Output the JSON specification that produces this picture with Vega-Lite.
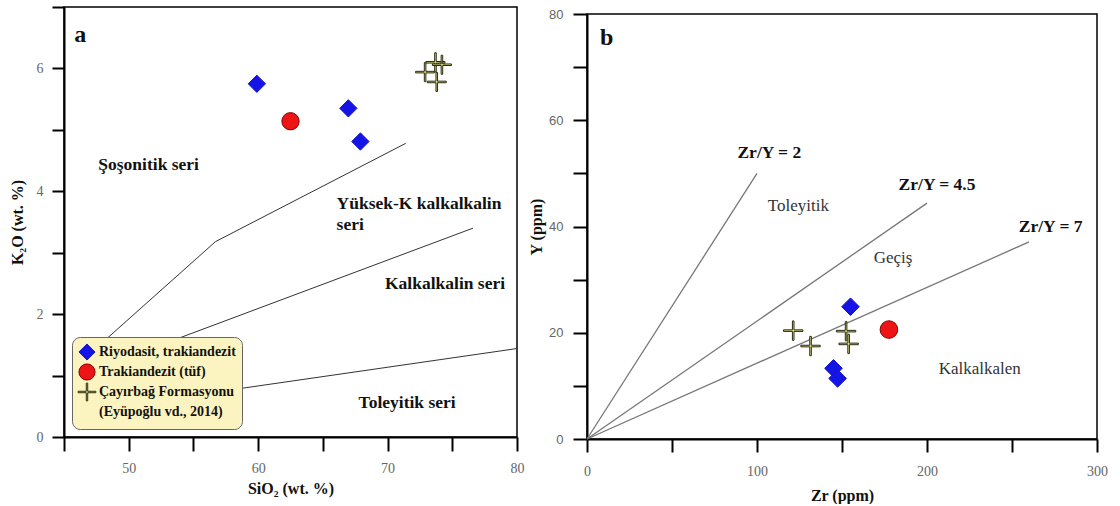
{
  "$schema": "https://vega.github.io/schema/vega-lite/v6.json",
  "padding": {"left": 8, "top": 5, "right": 0, "bottom": 0},
  "autosize": {"type": "pad"},
  "spacing": 2,
  "background": "white",
  "config": {
    "view": {"stroke": "black", "strokeWidth": 1.5},
    "axis": {
      "domainColor": "black", "domainWidth": 2, "tickColor": "black", "tickWidth": 2,
      "grid": false, "labelFont": "Liberation Serif", "labelFontSize": 14, "labelColor": "#666",
      "titleFont": "Liberation Serif", "titleFontWeight": "bold", "titleFontSize": 16, "titleColor": "#111",
      "labelOverlap": false, "labelFlush": false
    }
  },
  "resolve": {"scale": {"fill": "independent", "shape": "independent", "stroke": "independent"}},
  "hconcat": [
    {
      "width": 453,
      "height": 430,
      "layer": [
        {
          "data": {"values": [
            {"id": "sho", "o": 1, "x": 47.5, "y": 1.45},
            {"id": "sho", "o": 2, "x": 56.7, "y": 3.18},
            {"id": "sho", "o": 3, "x": 71.4, "y": 4.78},
            {"id": "hk", "o": 1, "x": 53, "y": 1.54},
            {"id": "hk", "o": 2, "x": 76.6, "y": 3.4},
            {"id": "th", "o": 1, "x": 57, "y": 0.74},
            {"id": "th", "o": 2, "x": 80, "y": 1.44}
          ]},
          "mark": {"type": "line", "color": "#333", "strokeWidth": 1},
          "encoding": {
            "x": {"field": "x", "type": "quantitative", "scale": {"domain": [45, 80], "nice": false, "zero": false},
              "axis": {"title": "SiO₂ (wt. %)", "format": "d", "values": [45, 50, 55, 60, 65, 70, 75, 80], "labelExpr": "datum.value % 10 === 0 ? datum.label : ''", "tickSize": 14, "labelPadding": 10, "titlePadding": 5}},
            "y": {"field": "y", "type": "quantitative", "scale": {"domain": [0, 7], "nice": false},
              "axis": {"title": "K₂O (wt. %)", "format": "d", "values": [0, 1, 2, 3, 4, 5, 6, 7], "labelExpr": "datum.value % 2 === 0 ? datum.label : ''",
                "labelFontSize": {"condition": {"test": "datum.value % 2 === 1", "value": 0}, "value": 14},
                "tickSize": 12, "labelPadding": 9, "titlePadding": 11}},
            "detail": {"field": "id"},
            "order": {"field": "o"}
          }
        },
        {
          "data": {"values": [
            {"x": 59.9, "y": 5.75, "grp": "Riyodasit, trakiandezit"},
            {"x": 66.97, "y": 5.35, "grp": "Riyodasit, trakiandezit"},
            {"x": 67.9, "y": 4.81, "grp": "Riyodasit, trakiandezit"},
            {"x": 62.5, "y": 5.14, "grp": "Trakiandezit (tüf)"},
            {"x": 72.9, "y": 5.94, "grp": "Çayırbağ Formasyonu"},
            {"x": 73.7, "y": 6.1, "grp": "Çayırbağ Formasyonu"},
            {"x": 74.2, "y": 6.06, "grp": "Çayırbağ Formasyonu"},
            {"x": 73.8, "y": 5.78, "grp": "Çayırbağ Formasyonu"}
          ]},
          "mark": {"type": "point", "filled": true, "opacity": 1, "size": 300, "strokeWidth": 1},
          "encoding": {
            "x": {"field": "x", "type": "quantitative"},
            "y": {"field": "y", "type": "quantitative"},
            "shape": {"field": "grp", "type": "nominal",
              "scale": {"domain": ["Riyodasit, trakiandezit", "Trakiandezit (tüf)", "Çayırbağ Formasyonu", "(Eyüpoğlu vd., 2014)"],
                "range": ["diamond", "circle", "M-0.09,-1.1H0.09V-0.09H1.1V0.09H0.09V1.1H-0.09V0.09H-1.1V-0.09H-0.09Z", "circle"]},
              "legend": {"orient": "none", "legendX": 8, "legendY": 330, "title": null, "fillColor": "#fcf4c0", "strokeColor": "#666", "cornerRadius": 8, "padding": 6, "rowPadding": -3, "symbolSize": 260, "labelFont": "Liberation Serif", "labelFontSize": 14, "labelFontWeight": "bold", "labelColor": "#111", "labelOffset": 3, "symbolStrokeWidth": 1}},
            "fill": {"field": "grp", "type": "nominal",
              "scale": {"domain": ["Riyodasit, trakiandezit", "Trakiandezit (tüf)", "Çayırbağ Formasyonu", "(Eyüpoğlu vd., 2014)"],
                "range": ["#1414e6", "#ec1414", "#e2e28c", "transparent"]},
              "legend": {"orient": "none", "legendX": 8, "legendY": 330, "title": null, "fillColor": "#fcf4c0", "strokeColor": "#666", "cornerRadius": 8, "padding": 6, "rowPadding": -3, "symbolSize": 260, "labelFont": "Liberation Serif", "labelFontSize": 14, "labelFontWeight": "bold", "labelColor": "#111", "labelOffset": 3, "symbolStrokeWidth": 1}},
            "stroke": {"field": "grp", "type": "nominal",
              "scale": {"domain": ["Riyodasit, trakiandezit", "Trakiandezit (tüf)", "Çayırbağ Formasyonu", "(Eyüpoğlu vd., 2014)"],
                "range": ["#1414c8", "#8a0000", "#2a2a10", "transparent"]},
              "legend": {"orient": "none", "legendX": 8, "legendY": 330, "title": null, "fillColor": "#fcf4c0", "strokeColor": "#666", "cornerRadius": 8, "padding": 6, "rowPadding": -3, "symbolSize": 260, "labelFont": "Liberation Serif", "labelFontSize": 14, "labelFontWeight": "bold", "labelColor": "#111", "labelOffset": 3, "symbolStrokeWidth": 1}}
          }
        },
        {
          "data": {"values": [
            {"x": 47.65, "y": 4.42, "label": "Şoşonitik seri"},
            {"x": 66.06, "y": 3.79, "label": "Yüksek-K kalkalkalin"},
            {"x": 66.06, "y": 3.45, "label": "seri"},
            {"x": 69.8, "y": 2.49, "label": "Kalkalkalin seri"},
            {"x": 67.76, "y": 0.557, "label": "Toleyitik seri"}
          ]},
          "mark": {"type": "text", "font": "Liberation Serif", "fontWeight": "bold", "fontSize": 17.5, "align": "left", "baseline": "middle", "color": "#111"},
          "encoding": {
            "x": {"field": "x", "type": "quantitative"},
            "y": {"field": "y", "type": "quantitative"},
            "text": {"field": "label"}
          }
        },
        {
          "data": {"values": [{"x": 45.8, "y": 6.55, "label": "a"}]},
          "mark": {"type": "text", "font": "Liberation Serif", "fontWeight": "bold", "fontSize": 24, "align": "left", "baseline": "middle", "color": "#111"},
          "encoding": {
            "x": {"field": "x", "type": "quantitative"},
            "y": {"field": "y", "type": "quantitative"},
            "text": {"field": "label"}
          }
        }
      ]
    },
    {
      "spacing": -1,
      "vconcat": [
        {
          "width": 1,
          "height": 1,
          "view": {"stroke": null},
          "data": {"values": []},
          "mark": "point"
        },
        {
          "width": 510,
          "height": 425,
          "layer": [
            {
              "data": {"values": [
                {"id": "r2", "x": 0, "y": 0},
                {"id": "r2", "x": 100, "y": 50},
                {"id": "r45", "x": 0, "y": 0},
                {"id": "r45", "x": 200, "y": 44.4},
                {"id": "r7", "x": 0, "y": 0},
                {"id": "r7", "x": 260, "y": 37.1}
              ]},
              "mark": {"type": "line", "color": "#777", "strokeWidth": 1.3},
              "encoding": {
                "x": {"field": "x", "type": "quantitative", "scale": {"domain": [0, 300], "nice": false},
                  "axis": {"title": "Zr (ppm)", "values": [0, 50, 100, 150, 200, 250, 300], "labelExpr": "datum.value % 100 === 0 ? datum.label : ''", "tickSize": 13, "labelPadding": 12, "titlePadding": 9}},
                "y": {"field": "y", "type": "quantitative", "scale": {"domain": [0, 80], "nice": false},
                  "axis": {"title": "Y (ppm)", "values": [0, 10, 20, 30, 40, 50, 60, 70, 80], "labelExpr": "datum.value % 20 === 0 ? datum.label : ''", "tickSize": 14, "labelPadding": 10, "titlePadding": 4, "labelFont": "Liberation Sans", "labelFontSize": 13}},
                "detail": {"field": "id"}
              }
            },
            {
              "data": {"values": [
                {"x": 155, "y": 24.9, "grp": "Riyodasit, trakiandezit"},
                {"x": 145, "y": 13.3, "grp": "Riyodasit, trakiandezit"},
                {"x": 147.4, "y": 11.4, "grp": "Riyodasit, trakiandezit"},
                {"x": 177.6, "y": 20.6, "grp": "Trakiandezit (tüf)"},
                {"x": 121.3, "y": 20.4, "grp": "Çayırbağ Formasyonu"},
                {"x": 131.5, "y": 17.5, "grp": "Çayırbağ Formasyonu"},
                {"x": 152.4, "y": 20.3, "grp": "Çayırbağ Formasyonu"},
                {"x": 153.9, "y": 17.9, "grp": "Çayırbağ Formasyonu"}
              ]},
              "mark": {"type": "point", "filled": true, "opacity": 1, "size": 310, "strokeWidth": 1},
              "encoding": {
                "x": {"field": "x", "type": "quantitative"},
                "y": {"field": "y", "type": "quantitative"},
                "shape": {"field": "grp", "type": "nominal",
                  "scale": {"domain": ["Riyodasit, trakiandezit", "Trakiandezit (tüf)", "Çayırbağ Formasyonu"],
                    "range": ["diamond", "circle", "M-0.09,-1.1H0.09V-0.09H1.1V0.09H0.09V1.1H-0.09V0.09H-1.1V-0.09H-0.09Z"]},
                  "legend": null},
                "fill": {"field": "grp", "type": "nominal",
                  "scale": {"domain": ["Riyodasit, trakiandezit", "Trakiandezit (tüf)", "Çayırbağ Formasyonu"],
                    "range": ["#1414e6", "#ec1414", "#e2e28c"]},
                  "legend": null},
                "stroke": {"field": "grp", "type": "nominal",
                  "scale": {"domain": ["Riyodasit, trakiandezit", "Trakiandezit (tüf)", "Çayırbağ Formasyonu"],
                    "range": ["#1414c8", "#8a0000", "#2a2a10"]},
                  "legend": null}
              }
            },
            {
              "data": {"values": [
                {"x": 88.5, "y": 53.75, "label": "Zr/Y = 2"},
                {"x": 183.3, "y": 47.9, "label": "Zr/Y = 4.5"},
                {"x": 254, "y": 40, "label": "Zr/Y = 7"}
              ]},
              "mark": {"type": "text", "font": "Liberation Serif", "fontWeight": "bold", "fontSize": 17.5, "align": "left", "baseline": "middle", "color": "#111"},
              "encoding": {
                "x": {"field": "x", "type": "quantitative"},
                "y": {"field": "y", "type": "quantitative"},
                "text": {"field": "label"}
              }
            },
            {
              "data": {"values": [
                {"x": 124.3, "y": 43.9, "label": "Toleyitik"},
                {"x": 180, "y": 34, "label": "Geçiş"},
                {"x": 231, "y": 13.1, "label": "Kalkalkalen"}
              ]},
              "mark": {"type": "text", "font": "Liberation Serif", "fontSize": 17, "align": "center", "baseline": "middle", "color": "#333"},
              "encoding": {
                "x": {"field": "x", "type": "quantitative"},
                "y": {"field": "y", "type": "quantitative"},
                "text": {"field": "label"}
              }
            },
            {
              "data": {"values": [{"x": 7.6, "y": 75.4, "label": "b"}]},
              "mark": {"type": "text", "font": "Liberation Serif", "fontWeight": "bold", "fontSize": 24, "align": "left", "baseline": "middle", "color": "#111"},
              "encoding": {
                "x": {"field": "x", "type": "quantitative"},
                "y": {"field": "y", "type": "quantitative"},
                "text": {"field": "label"}
              }
            }
          ]
        }
      ]
    }
  ]
}
